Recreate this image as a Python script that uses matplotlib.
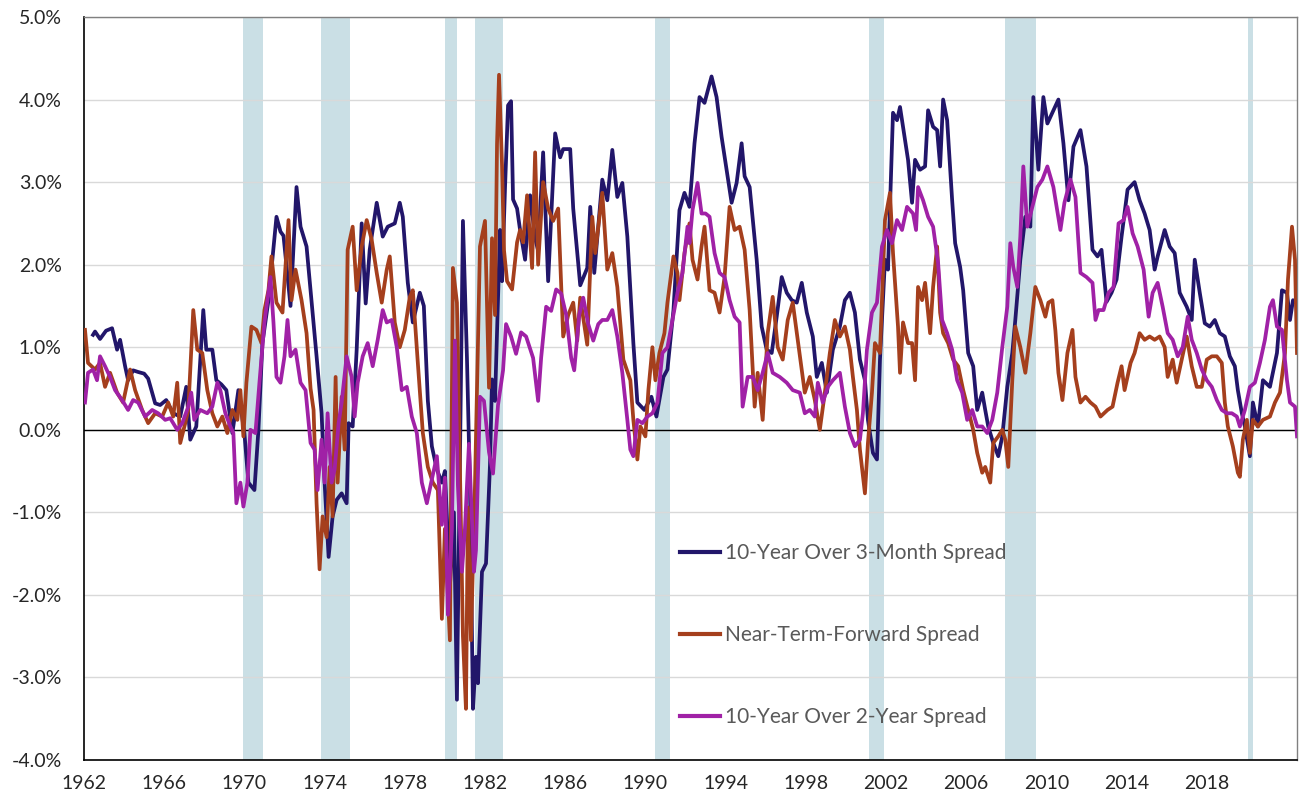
import matplotlib.pyplot as plt

# (year, spread in %)
spread_10y_3m = [
    (1962.45, 1.15), (1962.55, 1.19), (1962.8, 1.10), (1963.1, 1.20), (1963.4, 1.23),
    (1963.65, 0.97), (1963.8, 1.09), (1964.05, 0.77), (1964.2, 0.60), (1964.45, 0.72),
    (1964.7, 0.70), (1965.0, 0.68), (1965.2, 0.62), (1965.55, 0.32), (1965.8, 0.30),
    (1966.1, 0.36), (1966.45, 0.20), (1966.8, 0.16), (1967.1, 0.52), (1967.3, -0.12),
    (1967.6, 0.04), (1967.95, 1.45), (1968.1, 0.97), (1968.4, 0.97), (1968.6, 0.60),
    (1968.85, 0.55), (1969.1, 0.48), (1969.4, -0.04), (1969.7, 0.48), (1970.0, -0.04),
    (1970.2, -0.64), (1970.5, -0.73), (1970.7, 0.00), (1970.9, 1.05), (1971.2, 1.57),
    (1971.6, 2.58), (1971.8, 2.40), (1971.95, 2.35), (1972.3, 1.50), (1972.6, 2.94),
    (1972.8, 2.46), (1973.1, 2.22), (1973.6, 0.89), (1973.85, 0.20), (1974.0, -0.64),
    (1974.2, -1.54), (1974.4, -1.05), (1974.6, -0.85), (1974.85, -0.77), (1975.1, -0.89),
    (1975.2, 0.08), (1975.4, 0.04), (1975.6, 0.97), (1975.85, 2.50), (1976.05, 1.53),
    (1976.25, 2.18), (1976.6, 2.75), (1976.9, 2.34), (1977.15, 2.46), (1977.5, 2.50),
    (1977.75, 2.75), (1977.9, 2.58), (1978.15, 1.78), (1978.4, 1.30), (1978.75, 1.66),
    (1978.95, 1.50), (1979.15, 0.35), (1979.35, -0.20), (1979.6, -0.48), (1979.85, -0.64),
    (1980.0, -0.50), (1980.25, -1.90), (1980.45, -1.00), (1980.6, -3.27), (1980.9, 2.53),
    (1981.1, 0.87), (1981.25, -0.68), (1981.4, -3.38), (1981.55, -2.75), (1981.65, -3.07),
    (1981.85, -1.72), (1982.05, -1.62), (1982.25, -0.42), (1982.35, 0.61), (1982.5, 0.35),
    (1982.75, 2.42), (1982.85, 1.80), (1983.0, 2.94), (1983.15, 3.93), (1983.3, 3.98),
    (1983.4, 2.79), (1983.6, 2.68), (1983.75, 2.42), (1984.0, 2.06), (1984.25, 2.84),
    (1984.5, 2.32), (1984.65, 2.17), (1984.9, 3.36), (1985.15, 1.80), (1985.5, 3.59),
    (1985.75, 3.30), (1985.9, 3.40), (1986.25, 3.40), (1986.4, 2.68), (1986.75, 1.75),
    (1987.1, 1.96), (1987.25, 2.70), (1987.45, 1.90), (1987.85, 3.03), (1988.1, 2.78),
    (1988.35, 3.39), (1988.6, 2.82), (1988.85, 2.99), (1989.1, 2.34), (1989.4, 1.05),
    (1989.6, 0.33), (1989.95, 0.24), (1990.3, 0.40), (1990.55, 0.16), (1990.9, 0.64),
    (1991.1, 0.73), (1991.4, 1.45), (1991.7, 2.66), (1991.95, 2.87), (1992.2, 2.70),
    (1992.45, 3.47), (1992.7, 4.03), (1992.95, 3.96), (1993.3, 4.28), (1993.55, 4.03),
    (1993.8, 3.55), (1994.05, 3.15), (1994.3, 2.75), (1994.55, 2.99), (1994.8, 3.47),
    (1994.95, 3.07), (1995.2, 2.94), (1995.55, 2.06), (1995.8, 1.25), (1996.05, 0.97),
    (1996.3, 0.93), (1996.55, 1.37), (1996.8, 1.85), (1997.05, 1.66), (1997.3, 1.57),
    (1997.55, 1.54), (1997.8, 1.78), (1998.05, 1.42), (1998.35, 1.13), (1998.55, 0.64),
    (1998.8, 0.81), (1999.05, 0.45), (1999.35, 0.97), (1999.7, 1.25), (1999.95, 1.57),
    (2000.2, 1.66), (2000.45, 1.42), (2000.7, 0.85), (2000.95, 0.60), (2001.1, 0.12),
    (2001.35, -0.28), (2001.55, -0.36), (2001.7, 0.85), (2001.95, 2.06), (2002.1, 1.94),
    (2002.35, 3.84), (2002.55, 3.75), (2002.7, 3.91), (2002.85, 3.67), (2003.1, 3.27),
    (2003.3, 2.75), (2003.45, 3.27), (2003.7, 3.15), (2003.95, 3.19), (2004.1, 3.87),
    (2004.35, 3.67), (2004.55, 3.63), (2004.7, 3.19), (2004.85, 4.00), (2005.05, 3.75),
    (2005.3, 2.78), (2005.45, 2.26), (2005.7, 1.97), (2005.85, 1.69), (2006.1, 0.93),
    (2006.35, 0.77), (2006.55, 0.24), (2006.8, 0.45), (2006.95, 0.24), (2007.1, 0.04),
    (2007.35, -0.16), (2007.6, -0.32), (2007.8, -0.08), (2008.05, 0.52), (2008.3, 0.93),
    (2008.45, 1.33), (2008.7, 2.06), (2008.95, 2.58), (2009.2, 2.46), (2009.35, 4.03),
    (2009.6, 3.15), (2009.85, 4.03), (2010.05, 3.71), (2010.6, 4.00), (2010.85, 3.47),
    (2011.1, 2.78), (2011.35, 3.43), (2011.7, 3.63), (2012.0, 3.19), (2012.3, 2.18),
    (2012.55, 2.10), (2012.75, 2.18), (2013.0, 1.55), (2013.25, 1.66), (2013.5, 1.82),
    (2013.75, 2.34), (2014.05, 2.91), (2014.4, 3.00), (2014.65, 2.78), (2014.9, 2.62),
    (2015.15, 2.42), (2015.4, 1.94), (2015.55, 2.10), (2015.9, 2.42), (2016.15, 2.22),
    (2016.4, 2.14), (2016.65, 1.66), (2017.0, 1.49), (2017.25, 1.33), (2017.4, 2.06),
    (2017.65, 1.66), (2017.9, 1.29), (2018.15, 1.25), (2018.4, 1.33), (2018.65, 1.17),
    (2018.9, 1.13), (2019.15, 0.89), (2019.4, 0.77), (2019.55, 0.48), (2019.75, 0.20),
    (2019.9, 0.04), (2020.15, -0.32), (2020.3, 0.33), (2020.55, 0.04), (2020.8, 0.60),
    (2021.15, 0.52), (2021.5, 0.93), (2021.75, 1.69), (2022.0, 1.66), (2022.15, 1.33),
    (2022.3, 1.57), (2022.45, 1.54),
]

spread_near_term = [
    (1962.05, 1.21), (1962.2, 0.81), (1962.55, 0.73), (1962.8, 0.81), (1963.05, 0.52),
    (1963.3, 0.69), (1963.65, 0.45), (1963.95, 0.33), (1964.3, 0.73), (1964.55, 0.48),
    (1964.9, 0.24), (1965.2, 0.08), (1965.55, 0.20), (1965.9, 0.16), (1966.2, 0.33),
    (1966.45, 0.16), (1966.65, 0.57), (1966.8, -0.16), (1967.05, 0.08), (1967.2, 0.24),
    (1967.45, 1.45), (1967.65, 0.97), (1967.9, 0.93), (1968.15, 0.48), (1968.4, 0.20),
    (1968.65, 0.04), (1968.9, 0.16), (1969.15, -0.04), (1969.4, 0.24), (1969.65, 0.12),
    (1969.8, 0.48), (1969.95, -0.08), (1970.1, 0.57), (1970.35, 1.25), (1970.6, 1.21),
    (1970.85, 1.05), (1971.0, 1.45), (1971.2, 1.69), (1971.35, 2.10), (1971.6, 1.54),
    (1971.9, 1.42), (1972.05, 1.97), (1972.2, 2.54), (1972.35, 1.57), (1972.55, 1.94),
    (1972.85, 1.57), (1973.1, 1.17), (1973.3, 0.50), (1973.45, 0.24), (1973.6, -0.89),
    (1973.75, -1.69), (1973.9, -1.05), (1974.1, -1.30), (1974.25, -0.45), (1974.4, -1.05),
    (1974.55, 0.64), (1974.65, -0.64), (1974.85, 0.40), (1975.0, -0.24), (1975.15, 2.18),
    (1975.4, 2.46), (1975.6, 1.69), (1975.85, 2.22), (1976.1, 2.54), (1976.35, 2.30),
    (1976.6, 1.90), (1976.85, 1.54), (1977.1, 1.94), (1977.25, 2.10), (1977.5, 1.30),
    (1977.75, 1.00), (1978.0, 1.21), (1978.25, 1.61), (1978.4, 1.69), (1978.65, 0.81),
    (1978.9, -0.04), (1979.15, -0.45), (1979.4, -0.64), (1979.65, -0.73), (1979.85, -2.29),
    (1980.0, -1.20), (1980.25, -2.55), (1980.4, 1.96), (1980.6, 1.54), (1980.75, -0.50),
    (1980.9, -2.50), (1981.05, -3.38), (1981.15, -0.94), (1981.3, -2.55), (1981.5, -0.68),
    (1981.75, 2.22), (1982.0, 2.53), (1982.2, 0.51), (1982.35, 2.32), (1982.5, 1.39),
    (1982.6, 3.46), (1982.7, 4.30), (1982.85, 3.20), (1982.95, 2.17), (1983.1, 1.80),
    (1983.35, 1.70), (1983.6, 2.27), (1983.75, 2.42), (1983.9, 2.27), (1984.1, 2.84),
    (1984.35, 1.96), (1984.5, 3.36), (1984.65, 2.00), (1984.9, 3.00), (1985.15, 2.68),
    (1985.4, 2.53), (1985.65, 2.68), (1985.9, 1.13), (1986.15, 1.39), (1986.4, 1.54),
    (1986.6, 1.08), (1986.75, 1.60), (1987.1, 1.03), (1987.35, 2.58), (1987.5, 2.14),
    (1987.85, 2.87), (1988.1, 1.94), (1988.35, 2.14), (1988.6, 1.73), (1988.9, 0.85),
    (1989.25, 0.60), (1989.4, 0.12), (1989.6, -0.36), (1989.75, 0.04), (1990.0, -0.08),
    (1990.15, 0.48), (1990.35, 1.00), (1990.5, 0.60), (1990.7, 0.93), (1990.95, 1.17),
    (1991.1, 1.54), (1991.4, 2.10), (1991.6, 1.90), (1991.7, 1.57), (1991.95, 2.14),
    (1992.2, 2.50), (1992.35, 2.06), (1992.6, 1.82), (1992.8, 2.22), (1992.95, 2.46),
    (1993.2, 1.69), (1993.45, 1.66), (1993.7, 1.42), (1993.95, 1.85), (1994.2, 2.70),
    (1994.45, 2.42), (1994.7, 2.46), (1994.95, 2.18), (1995.2, 1.45), (1995.45, 0.28),
    (1995.6, 0.69), (1995.85, 0.12), (1996.1, 1.17), (1996.35, 1.61), (1996.6, 1.00),
    (1996.85, 0.85), (1997.1, 1.33), (1997.35, 1.54), (1997.6, 1.09), (1997.95, 0.45),
    (1998.2, 0.64), (1998.45, 0.36), (1998.7, 0.00), (1998.95, 0.45), (1999.2, 0.93),
    (1999.45, 1.33), (1999.7, 1.13), (1999.95, 1.25), (2000.2, 0.97), (2000.35, 0.64),
    (2000.55, 0.24), (2000.7, -0.24), (2000.95, -0.77), (2001.1, -0.16), (2001.3, 0.45),
    (2001.45, 1.05), (2001.7, 0.93), (2001.95, 2.54), (2002.2, 2.87), (2002.35, 2.14),
    (2002.6, 1.25), (2002.7, 0.69), (2002.85, 1.30), (2003.1, 1.05), (2003.3, 1.05),
    (2003.45, 0.60), (2003.6, 1.73), (2003.8, 1.57), (2003.95, 1.78), (2004.2, 1.17),
    (2004.35, 1.73), (2004.55, 2.22), (2004.7, 1.42), (2004.85, 1.17), (2005.1, 1.05),
    (2005.35, 0.85), (2005.6, 0.77), (2005.85, 0.48), (2006.1, 0.24), (2006.35, 0.00),
    (2006.55, -0.28), (2006.8, -0.52), (2006.95, -0.45), (2007.2, -0.64), (2007.35, -0.16),
    (2007.6, -0.08), (2007.8, 0.00), (2007.95, -0.12), (2008.1, -0.45), (2008.3, 0.60),
    (2008.45, 1.25), (2008.7, 1.00), (2008.95, 0.69), (2009.2, 1.17), (2009.45, 1.73),
    (2009.7, 1.57), (2009.95, 1.37), (2010.1, 1.54), (2010.3, 1.57), (2010.45, 1.20),
    (2010.6, 0.69), (2010.8, 0.36), (2011.05, 0.93), (2011.3, 1.21), (2011.45, 0.64),
    (2011.7, 0.33), (2011.95, 0.40), (2012.2, 0.33), (2012.45, 0.28), (2012.7, 0.16),
    (2013.05, 0.24), (2013.3, 0.28), (2013.55, 0.57), (2013.75, 0.77), (2013.9, 0.48),
    (2014.2, 0.81), (2014.4, 0.93), (2014.65, 1.17), (2014.9, 1.09), (2015.15, 1.13),
    (2015.4, 1.09), (2015.65, 1.13), (2015.9, 1.00), (2016.05, 0.64), (2016.3, 0.85),
    (2016.5, 0.57), (2016.75, 0.85), (2017.0, 1.13), (2017.25, 0.77), (2017.5, 0.52),
    (2017.75, 0.52), (2018.0, 0.85), (2018.25, 0.89), (2018.5, 0.89), (2018.75, 0.81),
    (2018.9, 0.33), (2019.05, 0.04), (2019.3, -0.20), (2019.55, -0.52), (2019.65, -0.57),
    (2019.8, -0.12), (2020.0, 0.12), (2020.15, -0.28), (2020.3, 0.12), (2020.55, 0.04),
    (2020.8, 0.12), (2021.15, 0.16), (2021.4, 0.33), (2021.65, 0.45), (2021.9, 0.93),
    (2022.05, 1.82), (2022.25, 2.46), (2022.4, 2.06), (2022.5, 0.93),
]

spread_10y_2y = [
    (1962.05, 0.33), (1962.2, 0.69), (1962.45, 0.73), (1962.65, 0.60), (1962.8, 0.89),
    (1963.05, 0.77), (1963.3, 0.64), (1963.55, 0.48), (1963.9, 0.36), (1964.2, 0.24),
    (1964.45, 0.36), (1964.7, 0.33), (1965.05, 0.16), (1965.4, 0.24), (1965.7, 0.20),
    (1966.05, 0.12), (1966.3, 0.14), (1966.65, 0.00), (1966.9, 0.08), (1967.2, 0.28),
    (1967.35, 0.45), (1967.5, 0.12), (1967.8, 0.24), (1968.15, 0.20), (1968.4, 0.28),
    (1968.65, 0.57), (1968.8, 0.48), (1969.05, 0.20), (1969.3, 0.04), (1969.45, -0.04),
    (1969.6, -0.89), (1969.8, -0.64), (1969.95, -0.93), (1970.15, -0.64), (1970.3, 0.00),
    (1970.55, -0.04), (1970.75, 0.57), (1971.0, 1.30), (1971.3, 1.85), (1971.45, 1.30),
    (1971.6, 0.64), (1971.8, 0.57), (1972.0, 0.89), (1972.15, 1.33), (1972.3, 0.89),
    (1972.55, 0.97), (1972.8, 0.57), (1973.05, 0.48), (1973.3, -0.16), (1973.5, -0.24),
    (1973.65, -0.73), (1973.85, -0.12), (1974.0, -0.64), (1974.15, 0.20), (1974.35, -0.64),
    (1974.5, -0.48), (1974.7, 0.08), (1974.85, 0.33), (1975.1, 0.89), (1975.35, 0.64),
    (1975.5, 0.16), (1975.65, 0.57), (1975.9, 0.89), (1976.15, 1.05), (1976.4, 0.77),
    (1976.65, 1.09), (1976.9, 1.45), (1977.1, 1.30), (1977.35, 1.33), (1977.6, 1.00),
    (1977.85, 0.48), (1978.1, 0.52), (1978.35, 0.16), (1978.6, -0.04), (1978.85, -0.64),
    (1979.1, -0.89), (1979.35, -0.60), (1979.6, -0.32), (1979.85, -1.15), (1980.0, -0.58),
    (1980.15, -2.24), (1980.35, -1.20), (1980.5, 1.08), (1980.65, -0.68), (1980.85, -1.72),
    (1981.0, -1.20), (1981.2, -0.17), (1981.45, -1.72), (1981.55, -1.46), (1981.75, 0.40),
    (1981.95, 0.35), (1982.2, -0.27), (1982.4, -0.53), (1982.65, 0.30), (1982.9, 0.72),
    (1983.05, 1.28), (1983.3, 1.13), (1983.55, 0.92), (1983.8, 1.18), (1984.05, 1.13),
    (1984.4, 0.87), (1984.65, 0.35), (1984.8, 0.87), (1985.05, 1.49), (1985.3, 1.44),
    (1985.55, 1.70), (1985.8, 1.65), (1986.05, 1.39), (1986.3, 0.87), (1986.45, 0.72),
    (1986.7, 1.39), (1986.9, 1.60), (1987.15, 1.28), (1987.4, 1.08), (1987.65, 1.28),
    (1987.85, 1.33), (1988.1, 1.33), (1988.35, 1.45), (1988.6, 1.13), (1988.85, 0.69),
    (1989.1, 0.12), (1989.25, -0.24), (1989.4, -0.32), (1989.6, 0.12), (1989.85, 0.08),
    (1990.1, 0.16), (1990.35, 0.20), (1990.6, 0.33), (1990.85, 0.93), (1991.1, 1.00),
    (1991.35, 1.33), (1991.6, 1.66), (1991.85, 1.90), (1992.1, 2.46), (1992.2, 2.26),
    (1992.35, 2.66), (1992.6, 2.99), (1992.8, 2.62), (1993.0, 2.62), (1993.2, 2.58),
    (1993.45, 2.14), (1993.7, 1.90), (1993.95, 1.85), (1994.2, 1.57), (1994.45, 1.37),
    (1994.7, 1.30), (1994.85, 0.28), (1995.1, 0.64), (1995.35, 0.64), (1995.6, 0.48),
    (1995.85, 0.69), (1996.1, 0.93), (1996.35, 0.69), (1996.7, 0.64), (1997.05, 0.57),
    (1997.35, 0.48), (1997.7, 0.45), (1997.95, 0.20), (1998.2, 0.24), (1998.45, 0.16),
    (1998.6, 0.57), (1998.85, 0.33), (1999.1, 0.52), (1999.35, 0.60), (1999.7, 0.69),
    (1999.95, 0.28), (2000.2, -0.04), (2000.45, -0.20), (2000.7, -0.12), (2000.85, 0.20),
    (2001.05, 0.97), (2001.3, 1.42), (2001.55, 1.54), (2001.8, 2.22), (2002.05, 2.42),
    (2002.3, 2.26), (2002.55, 2.54), (2002.8, 2.42), (2003.05, 2.70), (2003.35, 2.62),
    (2003.5, 2.42), (2003.6, 2.94), (2003.85, 2.78), (2004.1, 2.58), (2004.35, 2.46),
    (2004.6, 2.02), (2004.8, 1.33), (2005.05, 1.17), (2005.3, 0.97), (2005.55, 0.60),
    (2005.8, 0.45), (2006.05, 0.12), (2006.3, 0.24), (2006.55, 0.04), (2006.8, 0.04),
    (2007.05, -0.04), (2007.3, 0.12), (2007.55, 0.45), (2007.8, 1.00), (2008.05, 1.49),
    (2008.2, 2.26), (2008.35, 1.97), (2008.55, 1.73), (2008.7, 2.34), (2008.85, 3.19),
    (2009.05, 2.46), (2009.3, 2.70), (2009.55, 2.94), (2009.8, 3.03), (2010.05, 3.19),
    (2010.35, 2.94), (2010.7, 2.42), (2010.9, 2.75), (2011.2, 3.03), (2011.45, 2.82),
    (2011.7, 1.90), (2012.0, 1.85), (2012.3, 1.78), (2012.45, 1.33), (2012.6, 1.45),
    (2012.85, 1.45), (2013.1, 1.66), (2013.35, 1.73), (2013.6, 2.50), (2013.85, 2.54),
    (2014.05, 2.70), (2014.3, 2.38), (2014.55, 2.22), (2014.85, 1.94), (2015.1, 1.37),
    (2015.3, 1.66), (2015.55, 1.78), (2015.8, 1.49), (2016.05, 1.17), (2016.3, 1.09),
    (2016.55, 0.89), (2016.8, 1.00), (2017.05, 1.37), (2017.25, 1.09), (2017.5, 0.93),
    (2017.75, 0.73), (2018.0, 0.60), (2018.25, 0.52), (2018.5, 0.36), (2018.75, 0.24),
    (2019.0, 0.20), (2019.25, 0.20), (2019.5, 0.16), (2019.65, 0.04), (2019.9, 0.24),
    (2020.15, 0.52), (2020.4, 0.57), (2020.65, 0.81), (2020.9, 1.09), (2021.15, 1.49),
    (2021.3, 1.57), (2021.5, 1.25), (2021.75, 1.21), (2022.0, 0.60), (2022.15, 0.33),
    (2022.4, 0.28), (2022.5, -0.08),
]

# NBER recessions (start, end)
recessions = [
    (1969.92, 1970.92), (1973.83, 1975.25), (1980.0, 1980.58), (1981.5, 1982.92),
    (1990.5, 1991.25), (2001.17, 2001.92), (2007.92, 2009.5), (2020.08, 2020.33),
]

series_labels = ["10-Year Over 3-Month Spread", "Near-Term-Forward Spread",
                 "10-Year Over 2-Year Spread"]
series_colors = ["#22166a", "#a53f1d", "#a021a6"]

x_ticks = list(range(1962, 2022, 4))
y_ticks = [-4, -3, -2, -1, 0, 1, 2, 3, 4, 5]

plt.rcParams['font.family'] = ['Lato', 'DejaVu Sans']

fig = plt.figure(figsize=(12.99, 8.05), dpi=100)
ax = fig.add_axes([84 / 1299, 1 - 760 / 805, (1297 - 84) / 1299, (760 - 17) / 805])

for start, end in recessions:
    ax.axvspan(start, end, color="#cadfe5", lw=0, zorder=0)

ax.set_yticks(y_ticks)
ax.grid(axis='y', color="#d9d9d9", lw=1, zorder=1)
ax.axhline(0, color="#000000", lw=1, zorder=2)

for data, label, color in zip([spread_10y_3m, spread_near_term, spread_10y_2y],
                              series_labels, series_colors):
    xs = [p[0] for p in data]
    ys = [p[1] for p in data]
    ax.plot(xs, ys, color=color, lw=2.7, label=label, zorder=3,
            solid_joinstyle='round')

ax.set_xlim(1962, 2022.5)
ax.set_ylim(-4, 5)
ax.set_xticks(x_ticks)
ax.set_xticklabels([str(y) for y in x_ticks])
ax.set_yticklabels([f"{v:.1f}%" for v in y_ticks])
ax.tick_params(axis='both', length=0, labelsize=14, colors="#262626")
ax.tick_params(axis='y', pad=16)
ax.tick_params(axis='x', pad=11)

for side in ['left', 'bottom']:
    ax.spines[side].set_color("#000000")
    ax.spines[side].set_linewidth(1.2)
for side in ['top', 'right']:
    ax.spines[side].set_color("#808080")
    ax.spines[side].set_linewidth(1.0)

leg = ax.legend(loc='upper left', bbox_to_anchor=(680 / 1299, 1 - 543 / 805),
                bbox_transform=fig.transFigure, frameon=False, fontsize=15,
                handlelength=1.9, handletextpad=0.25, labelspacing=2.98,
                borderpad=0, borderaxespad=0)
for txt in leg.get_texts():
    txt.set_color("#595959")
for line in leg.get_lines():
    line.set_linewidth(3)

fig.savefig("out.png", dpi=100)
